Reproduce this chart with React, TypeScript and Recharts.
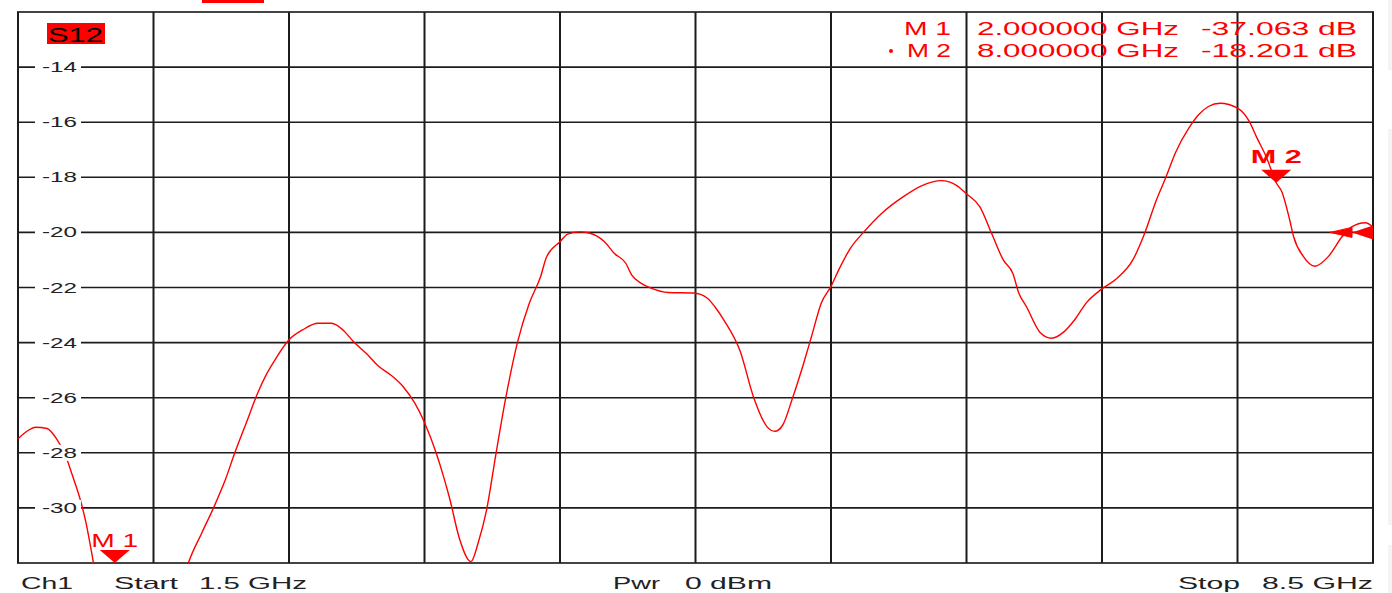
import React from "react";
import {
  LineChart,
  Line,
  XAxis,
  YAxis,
  CartesianGrid,
  ReferenceDot,
  ReferenceLine,
  ReferenceArea,
} from "recharts";

// S12 trace (GHz, dB)
const FREQ_GHZ = [
  1.5, 1.55, 1.59, 1.65, 1.7, 1.74, 1.78, 1.82, 1.85, 1.89, 1.95, 2.0, 2.1,
  2.2, 2.3, 2.38, 2.45, 2.51, 2.57, 2.62, 2.68, 2.74, 2.78, 2.83, 2.9, 2.97,
  3.05, 3.12, 3.18, 3.23, 3.3, 3.36, 3.43, 3.49, 3.55, 3.6, 3.66, 3.7, 3.73,
  3.78, 3.84, 3.88, 3.92, 3.97, 4.02, 4.08, 4.14, 4.2, 4.23, 4.3, 4.34, 4.4,
  4.45, 4.53, 4.58, 4.64, 4.67, 4.72, 4.77, 4.86, 4.99, 5.06, 5.1, 5.15, 5.23,
  5.3, 5.37, 5.41, 5.45, 5.5, 5.56, 5.6, 5.65, 5.7, 5.74, 5.8, 5.87, 5.96,
  6.07, 6.17, 6.27, 6.35, 6.4, 6.47, 6.53, 6.59, 6.64, 6.67, 6.71, 6.78, 6.84,
  6.9, 6.96, 7.02, 7.1, 7.17, 7.26, 7.32, 7.38, 7.43, 7.48, 7.55, 7.6, 7.65,
  7.71, 7.8, 7.86, 7.9, 7.95, 8.0, 8.03, 8.07, 8.09, 8.14, 8.2, 8.27, 8.34,
  8.39, 8.46, 8.5,
];
const S12_DB = [
  -27.49, -27.2, -27.07, -27.12, -27.5, -28.0, -28.8, -29.66, -30.5, -32.0,
  -34.5, -37.06, -38.6, -36.8, -34.0, -32.0, -30.9, -30.0, -29.0, -28.0, -26.9,
  -25.8, -25.2, -24.6, -23.9, -23.54, -23.3, -23.3, -23.55, -23.94, -24.4,
  -24.84, -25.2, -25.6, -26.2, -26.9, -28.0, -28.9, -29.66, -31.1, -31.95,
  -31.2, -30.1, -28.0, -26.0, -24.0, -22.6, -21.6, -20.9, -20.34, -20.06,
  -19.98, -20.02, -20.34, -20.76, -21.12, -21.54, -21.85, -22.02, -22.18,
  -22.2, -22.38, -22.7, -23.22, -24.3, -25.98, -27.06, -27.22, -27.0, -26.04,
  -24.72, -23.76, -22.56, -21.96, -21.36, -20.58, -19.98, -19.32, -18.72,
  -18.3, -18.12, -18.3, -18.6, -19.08, -20.04, -21.0, -21.5, -22.2, -22.7,
  -23.63, -23.84, -23.63, -23.16, -22.55, -22.05, -21.71, -20.99, -20.04,
  -18.84, -18.0, -17.1, -16.2, -15.72, -15.43, -15.31, -15.49, -15.96, -16.56,
  -17.28, -18.2, -18.54, -19.56, -20.16, -20.87, -21.23, -20.87, -20.16, -19.8,
  -19.65, -19.8,
];

const X_TICKS = [1.5, 2.2, 2.9, 3.6, 4.3, 5.0, 5.7, 6.4, 7.1, 7.8, 8.5];
const Y_TICKS = [-32, -30, -28, -26, -24, -22, -20, -18, -16, -14, -12];
const Y_LABELED = [-30, -28, -26, -24, -22, -20, -18, -16, -14];

const X_MIN = 1.5;
const X_MAX = 8.5;
const Y_MIN = -32;
const Y_MAX = -12;

const M1_GHZ = 2.0;
const M1_DB = -37.063;
const M2_GHZ = 8.0;
const M2_DB = -18.201;
const REF_LEVEL_DB = -20;

const data = FREQ_GHZ.map((f, i) => ({ f, db: S12_DB[i] }));

const RED = "#ff0000";
const GRID = "#1c1c1c";
const FONT = "'Liberation Sans', Arial, sans-serif";

function YLabel(props: any) {
  const { cy, value } = props;
  return (
    <g>
      <rect x={35} y={cy - 8} width={46} height={16} fill="#fff" />
      <text
        x={42}
        y={cy + 5}
        fontFamily={FONT}
        fontSize={14}
        fill="#222"
        textLength={35}
        lengthAdjust="spacingAndGlyphs"
      >
        {value}
      </text>
    </g>
  );
}

function MarkerShape(props: any) {
  const { cx, cy, label, bold, labelDy, labelLen } = props;
  return (
    <g>
      <text
        x={cx - labelLen / 2}
        y={cy + labelDy}
        fontFamily={FONT}
        fontSize={19}
        fontWeight={bold ? "bold" : "normal"}
        fill={RED}
        textLength={labelLen}
        lengthAdjust="spacingAndGlyphs"
      >
        {label}
      </text>
      <polygon
        points={`${cx - 15},${cy - 13} ${cx + 15},${cy - 13} ${cx},${cy}`}
        fill={RED}
      />
    </g>
  );
}

function RefLevelShape(props: any) {
  const { cx, cy } = props;
  return (
    <g>
      <polygon
        points={`${cx - 21},${cy - 5} ${cx - 21},${cy + 5} ${cx - 43},${cy}`}
        fill={RED}
        stroke={RED}
        strokeWidth={1}
      />
      <polygon
        points={`${cx},${cy - 7} ${cx},${cy + 7} ${cx - 21},${cy}`}
        fill={RED}
      />
    </g>
  );
}

function Txt(props: {
  x: number;
  y: number;
  len: number;
  size: number;
  fill: string;
  children: React.ReactNode;
}) {
  return (
    <text
      x={props.x}
      y={props.y}
      fontFamily={FONT}
      fontSize={props.size}
      fill={props.fill}
      textLength={props.len}
      lengthAdjust="spacingAndGlyphs"
    >
      {props.children}
    </text>
  );
}

export default function App() {
  return (
    <div
      style={{
        position: "absolute",
        left: 0,
        top: 0,
        width: 1392,
        height: 593,
        background: "#fff",
        overflow: "hidden",
      }}
    >
      <LineChart
        width={1392}
        height={593}
        data={data}
        margin={{ top: 12, right: 19, bottom: 30, left: 18 }}
      >
        <CartesianGrid stroke={GRID} strokeWidth={1.6} vertical={false} />
        <XAxis
          dataKey="f"
          type="number"
          domain={[X_MIN, X_MAX]}
          ticks={X_TICKS}
          hide
        />
        <YAxis
          type="number"
          domain={[Y_MIN, Y_MAX]}
          ticks={Y_TICKS}
          allowDataOverflow
          hide
        />
        {X_TICKS.map((t) => (
          <ReferenceLine
            key={`vx${t}`}
            x={t}
            stroke={GRID}
            strokeWidth={2}
            ifOverflow="visible"
          />
        ))}
        <ReferenceArea
          x1={X_MIN}
          x2={X_MAX}
          y1={Y_MIN}
          y2={Y_MAX}
          fill="none"
          stroke="#444"
          strokeWidth={2}
          ifOverflow="visible"
        />
        {Y_LABELED.map((v) => (
          <ReferenceDot
            key={`yl${v}`}
            x={X_MIN}
            y={v}
            ifOverflow="visible"
            shape={(p: any) => <YLabel {...p} value={v} />}
          />
        ))}
        <Line
          dataKey="db"
          type="monotone"
          stroke={RED}
          strokeWidth={1.4}
          dot={false}
          isAnimationActive={false}
        />
        <ReferenceDot
          x={M1_GHZ}
          y={Math.max(M1_DB, Y_MIN)}
          ifOverflow="visible"
          shape={(p: any) => (
            <MarkerShape {...p} label="M 1" labelDy={-16} labelLen={47} />
          )}
        />
        <ReferenceDot
          x={M2_GHZ}
          y={M2_DB}
          ifOverflow="visible"
          shape={(p: any) => (
            <MarkerShape {...p} label="M 2" bold labelDy={-20} labelLen={51} />
          )}
        />
        <ReferenceDot
          x={X_MAX}
          y={REF_LEVEL_DB}
          ifOverflow="visible"
          shape={(p: any) => <RefLevelShape {...p} />}
        />
      </LineChart>

      <svg
        width={1392}
        height={593}
        style={{ position: "absolute", left: 0, top: 0, pointerEvents: "none" }}
      >
        <rect x={202} y={0} width={62} height={3} fill={RED} />
        <rect x={1388} y={0} width={4} height={70} fill="#f3f4f6" />
        <rect x={1388} y={129} width={4} height={396} fill="#f3f4f6" />
        <rect x={1388} y={545} width={4} height={48} fill="#f3f4f6" />

        <rect x={47} y={23} width={58} height={21} fill={RED} />
        <Txt x={48} y={42} len={55} size={20} fill="#000">
          S12
        </Txt>

        <Txt x={904} y={35} len={47} size={18} fill={RED}>
          M 1
        </Txt>
        <Txt x={977} y={35} len={202} size={18} fill={RED}>
          2.000000 GHz
        </Txt>
        <Txt x={1201} y={35} len={156} size={18} fill={RED}>
          -37.063 dB
        </Txt>
        <circle cx={891} cy={51} r={2} fill={RED} />
        <Txt x={907} y={57} len={44} size={18} fill={RED}>
          M 2
        </Txt>
        <Txt x={977} y={57} len={202} size={18} fill={RED}>
          8.000000 GHz
        </Txt>
        <Txt x={1201} y={57} len={156} size={18} fill={RED}>
          -18.201 dB
        </Txt>

        <Txt x={21} y={589} len={52} size={17} fill="#222">
          Ch1
        </Txt>
        <Txt x={114} y={589} len={64} size={17} fill="#222">
          Start
        </Txt>
        <Txt x={199} y={589} len={108} size={17} fill="#222">
          1.5 GHz
        </Txt>
        <Txt x={613} y={589} len={47} size={17} fill="#222">
          Pwr
        </Txt>
        <Txt x={685} y={589} len={87} size={17} fill="#222">
          0 dBm
        </Txt>
        <Txt x={1178} y={589} len={62} size={17} fill="#222">
          Stop
        </Txt>
        <Txt x={1262} y={589} len={111} size={17} fill="#222">
          8.5 GHz
        </Txt>
      </svg>
    </div>
  );
}
